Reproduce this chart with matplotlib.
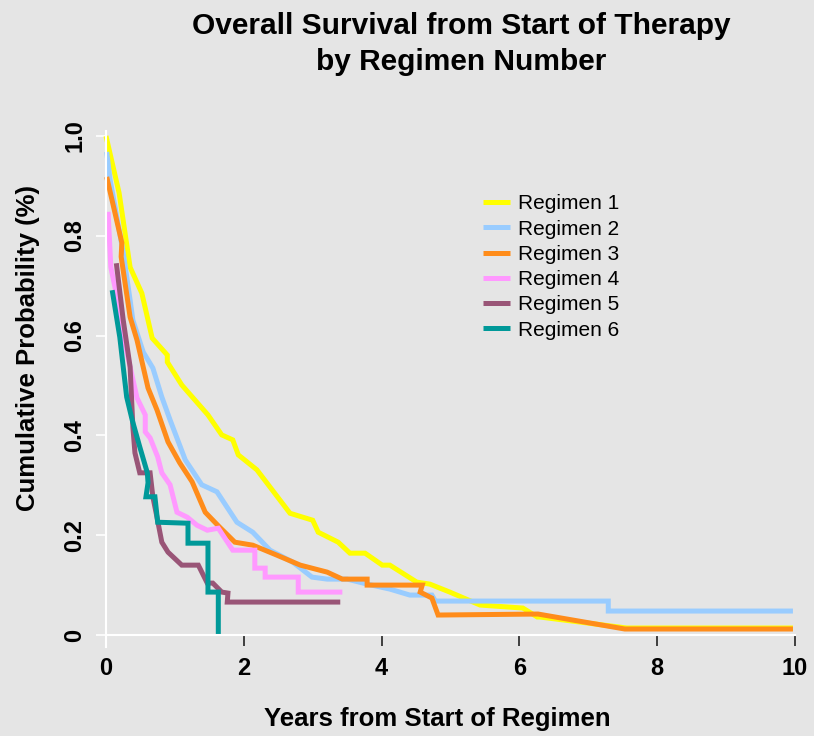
import matplotlib
matplotlib.use('Agg')
import matplotlib.pyplot as plt

plt.rcParams['font.family'] = ['Liberation Sans', 'DejaVu Sans']

BG = "#E5E5E5"
COLORS = ["#FFFF00", "#99CCFF", "#FF8C1A", "#FF99FF", "#995577", "#009999"]
LABELS = ["Regimen 1", "Regimen 2", "Regimen 3", "Regimen 4", "Regimen 5", "Regimen 6"]

# Regimen 1
R1_X = [0, 0.19, 0.35, 0.52, 0.67, 0.89, 0.89, 1.10, 1.48, 1.68, 1.84, 1.92, 2.19, 2.67,
        3.00, 3.08, 3.37, 3.54, 3.76, 4.01, 4.12, 4.51, 4.70, 4.99, 5.43, 6.05, 6.26, 6.30,
        7.56, 9.97]
R1_Y = [1.0, 0.886, 0.737, 0.685, 0.595, 0.561, 0.547, 0.501, 0.441, 0.401, 0.391, 0.361,
        0.331, 0.244, 0.230, 0.206, 0.186, 0.164, 0.164, 0.140, 0.140, 0.106, 0.102, 0.086,
        0.060, 0.054, 0.036, 0.036, 0.014, 0.014]
# Regimen 2
R2_X = [0.01, 0.06, 0.25, 0.35, 0.39, 0.54, 0.68, 0.81, 0.93, 1.15, 1.39, 1.61, 1.90, 2.13,
        2.38, 2.71, 2.99, 3.21, 3.50, 3.79, 4.12, 4.41, 4.73, 4.78, 7.29, 7.29, 9.97]
R2_Y = [0.968, 0.912, 0.766, 0.671, 0.631, 0.567, 0.535, 0.477, 0.431, 0.351, 0.301, 0.287,
        0.226, 0.206, 0.170, 0.146, 0.116, 0.112, 0.112, 0.102, 0.092, 0.080, 0.080, 0.068,
        0.068, 0.048, 0.048]
# Regimen 3
R3_X = [0.01, 0.23, 0.22, 0.35, 0.45, 0.61, 0.74, 0.90, 1.07, 1.25, 1.44, 1.65, 1.87, 2.13,
        2.48, 2.82, 3.21, 3.43, 3.79, 3.79, 4.59, 4.56, 4.73, 4.82, 6.27, 7.53, 9.97]
R3_Y = [0.918, 0.786, 0.758, 0.637, 0.591, 0.495, 0.451, 0.387, 0.345, 0.307, 0.246, 0.216,
        0.186, 0.180, 0.160, 0.140, 0.126, 0.112, 0.112, 0.100, 0.100, 0.086, 0.074, 0.040,
        0.042, 0.012, 0.012]
# Regimen 4
R4_X = [0.03, 0.07, 0.13, 0.28, 0.45, 0.57, 0.57, 0.64, 0.75, 0.81, 0.93, 1.03, 1.18, 1.32,
        1.47, 1.63, 1.84, 2.16, 2.16, 2.31, 2.31, 2.79, 2.79, 3.43]
R4_Y = [0.848, 0.737, 0.697, 0.581, 0.475, 0.441, 0.407, 0.395, 0.357, 0.325, 0.301, 0.246,
        0.236, 0.220, 0.210, 0.214, 0.170, 0.170, 0.134, 0.134, 0.116, 0.116, 0.086, 0.086]
# Regimen 5
R5_X = [0.15, 0.25, 0.35, 0.39, 0.42, 0.49, 0.64, 0.68, 0.74, 0.81, 0.90, 1.10, 1.34, 1.47,
        1.55, 1.68, 1.77, 1.76, 3.40]
R5_Y = [0.745, 0.631, 0.537, 0.417, 0.365, 0.325, 0.325, 0.277, 0.236, 0.186, 0.166, 0.140,
        0.140, 0.104, 0.104, 0.086, 0.084, 0.066, 0.066]
# Regimen 6
R6_X = [0.09, 0.20, 0.30, 0.38, 0.49, 0.60, 0.61, 0.58, 0.71, 0.75, 1.19, 1.19, 1.48, 1.48,
        1.63, 1.63]
R6_Y = [0.691, 0.597, 0.477, 0.431, 0.377, 0.325, 0.305, 0.277, 0.277, 0.226, 0.224, 0.184,
        0.184, 0.086, 0.086, 0.0]

SERIES = [(R1_X, R1_Y), (R2_X, R2_Y), (R3_X, R3_Y), (R4_X, R4_Y), (R5_X, R5_Y), (R6_X, R6_Y)]

fig = plt.figure(figsize=(8.14, 7.36), dpi=100)
fig.patch.set_facecolor(BG)
W, H = 814, 736
ax = fig.add_axes([106 / W, 1 - 635 / H, (795 - 106) / W, (635 - 136) / H])
ax.set_facecolor(BG)

for (xs, ys), c, lab in zip(SERIES, COLORS, LABELS):
    ax.plot(xs, ys, color=c, linewidth=3.6, label=lab, clip_on=False,
            solid_joinstyle="miter", solid_capstyle="butt")

ax.set_xlim(0, 10)
ax.set_ylim(0, 1)
ax.set_xticks([0, 2, 4, 6, 8, 10])
ax.set_yticks([0, 0.2, 0.4, 0.6, 0.8, 1.0])
ax.set_yticklabels(["0", "0.2", "0.4", "0.6", "0.8", "1.0"], rotation=90, va="center")
ax.tick_params(axis="x", colors="#222222", length=8, width=1.2, labelsize=17, pad=8)
ax.tick_params(axis="y", colors="white", length=7, width=1.2, labelsize=17, pad=7)
for lab in ax.get_xticklabels() + ax.get_yticklabels():
    lab.set_fontweight("bold")
    lab.set_color("black")

for sp in ["top", "right"]:
    ax.spines[sp].set_visible(False)
for sp in ["bottom", "left"]:
    ax.spines[sp].set_color("white")
    ax.spines[sp].set_linewidth(1.5)
ax.spines["left"].set_bounds(-0.025, 1.01)

ax.legend(loc="upper left", bbox_to_anchor=(475 / W, 1 - 186 / H), bbox_transform=fig.transFigure,
          frameon=False, fontsize=15, handlelength=1.3, handletextpad=0.34,
          labelspacing=0.3, borderaxespad=0)

fig.text(461 / W, 1 - 26 / H, "Overall Survival from Start of Therapy", ha="center", va="center",
         fontsize=21.5, fontweight="bold")
fig.text(461 / W, 1 - 62 / H, "by Regimen Number", ha="center", va="center",
         fontsize=21.5, fontweight="bold")
fig.text(437 / W, 1 - 719 / H, "Years from Start of Regimen", ha="center", va="center",
         fontsize=18.5, fontweight="bold")
fig.text(28 / W, 1 - 348 / H, "Cumulative Probability (%)", ha="center", va="center",
         rotation=90, fontsize=18.5, fontweight="bold")

fig.savefig("out.png", dpi=100, facecolor=BG)
